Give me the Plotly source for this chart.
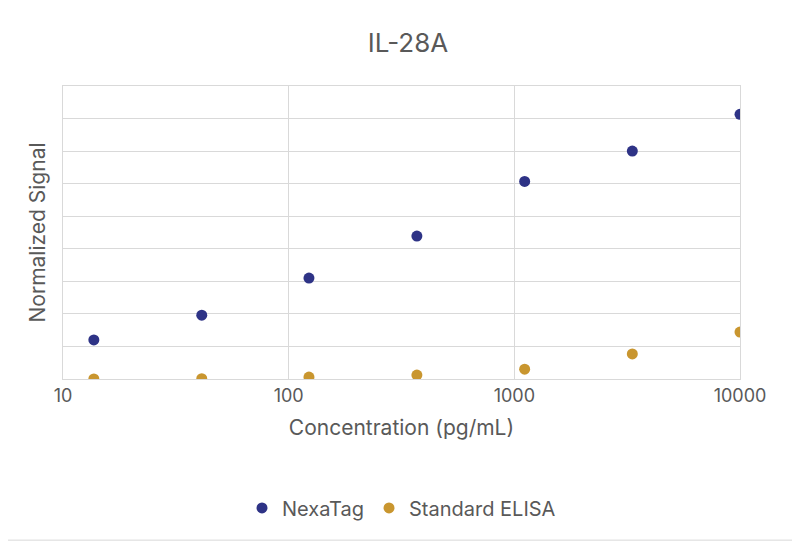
import plotly.graph_objects as go

# data
conc = [13.7, 41.2, 123, 370, 1111, 3333, 10000]
nexatag = [1.2, 1.96, 3.1, 4.39, 6.07, 7.0, 8.13]
elisa = [0.0, 0.01, 0.06, 0.12, 0.3, 0.77, 1.44]

fig = go.Figure()
fig.add_trace(go.Scatter(x=conc, y=nexatag, mode="markers", name="NexaTag",
                         marker=dict(color="#2e3386", size=11)))
fig.add_trace(go.Scatter(x=conc, y=elisa, mode="markers", name="Standard ELISA",
                         marker=dict(color="#c9962f", size=11)))

fig.update_layout(
    width=800, height=542,
    paper_bgcolor="white", plot_bgcolor="white",
    margin=dict(l=55, r=68, t=78, b=171),
    font=dict(family="Inter, Lato, sans-serif", color="#595959"),
    title=dict(text="IL-28A", x=0.5, xanchor="center", y=0.935, yanchor="middle",
               font=dict(size=26, color="#595959")),
    legend=dict(orientation="h", x=0.5, xanchor="center", y=-0.44, yanchor="middle",
                font=dict(size=20, color="#595959")),
    xaxis=dict(type="log", range=[1, 4], tickvals=[10, 100, 1000, 10000],
               ticktext=["10", "100", "1000", "10000"], tickfont=dict(size=18),
               showgrid=True, gridcolor="#d9d9d9", zeroline=False,
               showline=True, linecolor="#d9d9d9", mirror=True,
               title=dict(text="Concentration (pg/mL)", font=dict(size=21))),
    yaxis=dict(range=[0, 9], dtick=1, showticklabels=False,
               showgrid=True, gridcolor="#d9d9d9", zeroline=False,
               showline=True, linecolor="#d9d9d9", mirror=True,
               title=dict(text="Normalized Signal", font=dict(size=21), standoff=10)),
)
fig.add_shape(type="rect", xref="paper", yref="paper", x0=-0.092, x1=1.086, y0=-0.55, y1=1.29,
              line=dict(color="#d9d9d9", width=1))

fig.write_html("out.html")
